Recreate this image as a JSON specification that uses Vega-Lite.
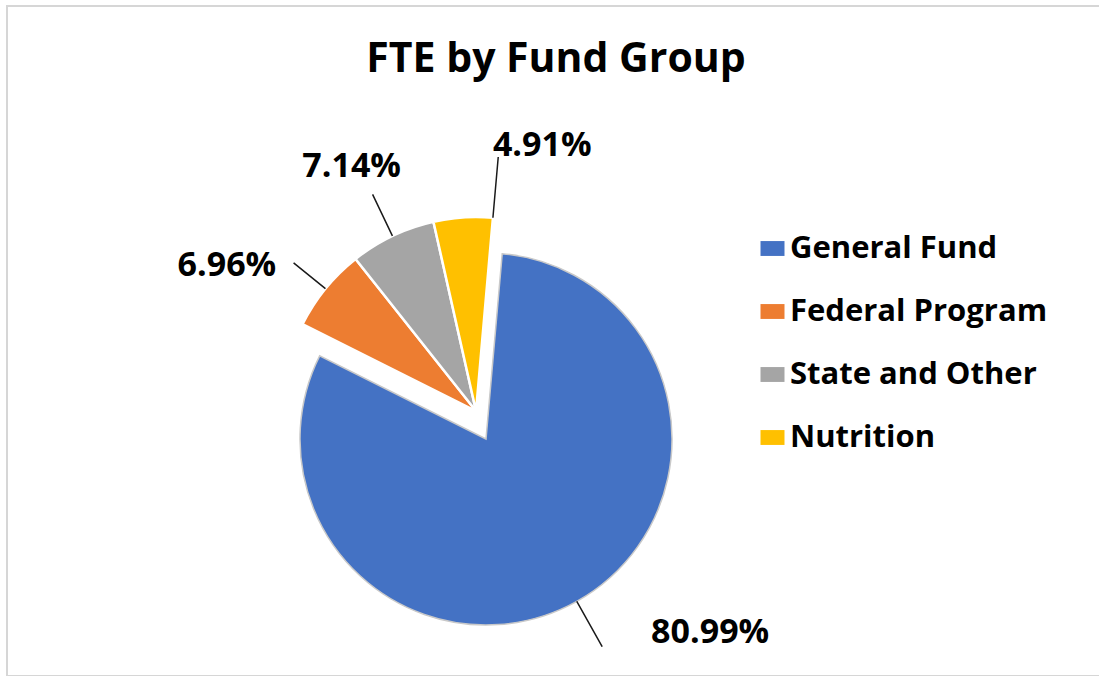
{
  "$schema": "https://vega.github.io/schema/vega-lite/v6.json",
  "width": 1094,
  "height": 670,
  "autosize": {"type": "none"},
  "padding": {"left": 7, "top": 6, "right": 0, "bottom": 0},
  "background": "white",
  "view": {"stroke": "#d6d6d6", "strokeWidth": 2},
  "config": {"view": {"stroke": "#d6d6d6", "strokeWidth": 2}, "font": "Open Sans"},
  "title": {"text": "FTE by Fund Group", "font": "Open Sans", "fontSize": 41, "fontWeight": "bold", "color": "#000000", "anchor": "middle", "frame": "group", "orient": "top", "baseline": "alphabetic", "offset": -107, "dx": 2},
  "data": {"values": [
    {"fund": "General Fund", "value": 80.99, "label": "80.99%", "rank": 1},
    {"fund": "Federal Program", "value": 6.96, "label": "6.96%", "rank": 2},
    {"fund": "State and Other", "value": 7.14, "label": "7.14%", "rank": 3},
    {"fund": "Nutrition", "value": 4.91, "label": "4.91%", "rank": 4}
  ]},
  "transform": [
    {"stack": "value", "groupby": [], "sort": [{"field": "rank", "order": "ascending"}], "as": ["s0", "s1"]},
    {"stack": "value", "groupby": ["fund"], "offset": "center", "as": ["c0", "c1"]}
  ],
  "layer": [
    {
      "transform": [{"filter": "datum.fund === 'General Fund'"}],
      "mark": {"type": "arc", "radius": 186, "xOffset": -68, "yOffset": 98, "stroke": "#c9c9c9", "strokeWidth": 1.5},
      "encoding": {
        "theta": {"field": "s0", "type": "quantitative", "stack": null, "scale": {"domain": [0, 100], "range": [0.0873, 6.3705]}},
        "theta2": {"field": "s1"},
        "color": {"field": "fund", "type": "nominal",
          "scale": {"domain": ["General Fund", "Federal Program", "State and Other", "Nutrition"], "range": ["#4472C4", "#ED7D31", "#A5A5A5", "#FFC000"]},
          "legend": {"orient": "none", "legendX": 750, "legendY": 227, "title": null, "labelFont": "Open Sans", "labelFontSize": 31, "labelFontWeight": "bold", "labelColor": "#000000", "labelLimit": 400, "symbolType": "M-1,-0.62H1V0.62H-1Z", "symbolSize": 576, "symbolStrokeWidth": 0, "symbolOpacity": 1, "rowPadding": 31, "labelOffset": 2, "padding": 0}}
      }
    },
    {
      "transform": [{"filter": "datum.fund !== 'General Fund'"}],
      "mark": {"type": "arc", "radius": 194, "xOffset": -78, "yOffset": 70, "stroke": "#ffffff", "strokeWidth": 2.5},
      "encoding": {
        "theta": {"field": "s0", "type": "quantitative", "stack": null},
        "theta2": {"field": "s1"},
        "color": {"field": "fund", "type": "nominal"}
      }
    },
    {
      "transform": [{"filter": "datum.fund === 'Nutrition'"}],
      "mark": {"type": "arc", "radius": 238, "radius2": 186, "padAngle": 3, "xOffset": -68, "yOffset": 98, "fillOpacity": 0, "stroke": "#1a1a1a", "strokeWidth": 1.5},
      "encoding": {
        "theta": {"field": "c0", "type": "quantitative", "stack": null},
        "theta2": {"field": "c1"}
      }
    },
    {
      "transform": [{"filter": "datum.fund === 'Federal Program'"}],
      "mark": {"type": "arc", "radius": 235, "radius2": 194, "padAngle": 3, "xOffset": -78, "yOffset": 70, "fillOpacity": 0, "stroke": "#1a1a1a", "strokeWidth": 1.5},
      "encoding": {
        "theta": {"field": "s0", "type": "quantitative", "stack": null},
        "theta2": {"field": "s1"}
      }
    },
    {
      "transform": [{"filter": "datum.fund === 'State and Other'"}],
      "mark": {"type": "arc", "radius": 240, "radius2": 194, "padAngle": 3, "xOffset": -78, "yOffset": 70, "fillOpacity": 0, "stroke": "#1a1a1a", "strokeWidth": 1.5},
      "encoding": {
        "theta": {"field": "s0", "type": "quantitative", "stack": null},
        "theta2": {"field": "s1"}
      }
    },
    {
      "transform": [{"filter": "datum.fund === 'Nutrition'"}],
      "mark": {"type": "arc", "radius": 255, "radius2": 194, "xOffset": -78, "yOffset": 70, "fillOpacity": 0, "stroke": "#1a1a1a", "strokeWidth": 1.5},
      "encoding": {
        "theta": {"field": "s1", "type": "quantitative", "stack": null},
        "theta2": {"field": "s1"}
      }
    },
    {
      "mark": {"type": "text", "radius": 238, "xOffset": -68, "yOffset": 98, "dx": 108, "dy": -14, "font": "Open Sans", "fontSize": 34, "fontWeight": "bold", "color": "#000000"},
      "encoding": {
        "theta": {"field": "value", "type": "quantitative", "stack": true},
        "order": {"field": "rank", "type": "quantitative"},
        "text": {"field": "label"},
        "opacity": {"condition": {"test": "datum.fund === 'General Fund'", "value": 1}, "value": 0}
      }
    },
    {
      "mark": {"type": "text", "radius": 290, "xOffset": -78, "yOffset": 70, "dx": -24, "dy": 38, "font": "Open Sans", "fontSize": 34, "fontWeight": "bold", "color": "#000000"},
      "encoding": {
        "theta": {"field": "value", "type": "quantitative", "stack": true},
        "order": {"field": "rank", "type": "quantitative"},
        "text": {"field": "label"},
        "opacity": {"condition": {"test": "datum.fund === 'Federal Program'", "value": 1}, "value": 0}
      }
    },
    {
      "mark": {"type": "text", "radius": 270, "xOffset": -78, "yOffset": 70, "dx": -8, "dy": 0, "font": "Open Sans", "fontSize": 34, "fontWeight": "bold", "color": "#000000"},
      "encoding": {
        "theta": {"field": "value", "type": "quantitative", "stack": true},
        "order": {"field": "rank", "type": "quantitative"},
        "text": {"field": "label"},
        "opacity": {"condition": {"test": "datum.fund === 'State and Other'", "value": 1}, "value": 0}
      }
    },
    {
      "mark": {"type": "text", "radius": 266, "xOffset": -78, "yOffset": 70, "dx": 84, "dy": 0, "font": "Open Sans", "fontSize": 34, "fontWeight": "bold", "color": "#000000"},
      "encoding": {
        "theta": {"field": "value", "type": "quantitative", "stack": true},
        "order": {"field": "rank", "type": "quantitative"},
        "text": {"field": "label"},
        "opacity": {"condition": {"test": "datum.fund === 'Nutrition'", "value": 1}, "value": 0}
      }
    }
  ]
}
